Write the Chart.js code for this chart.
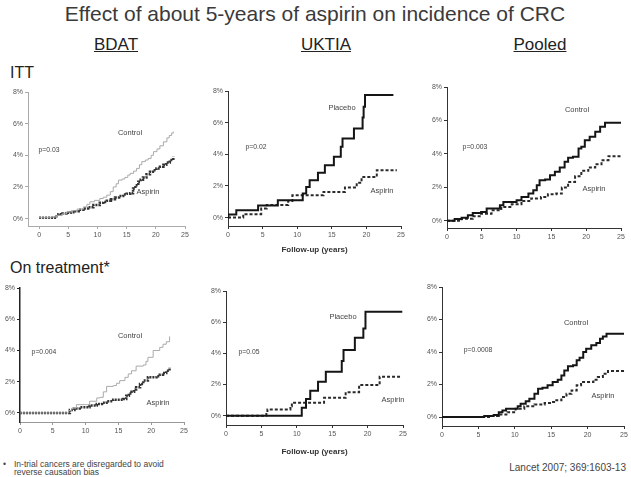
<!DOCTYPE html>
<html>
<head>
<meta charset="utf-8">
<script src="https://cdn.jsdelivr.net/npm/chart.js@4.4.0/dist/chart.umd.min.js"></script>
<style>
  html, body { margin: 0; padding: 0; background: #fff; }
  #page { position: relative; width: 631px; height: 477px; overflow: hidden;
          font-family: "Liberation Sans", Arial, sans-serif; color: #333; }
  .t { position: absolute; white-space: nowrap; }
  .c { transform: translate(-50%, -50%); }
  .hd { font-size: 17px; text-decoration: underline; color: #222; }
  .lb { font-size: 7.5px; color: #444; }
  .pv { font-size: 6.8px; color: #444; }
  canvas { position: absolute; }
</style>
</head>
<body>
<div id="page">
  <div class="t c" style="left:315px;top:14px;font-size:21px;color:#3a3a3a">Effect of about 5-years of aspirin on incidence of CRC</div>
  <div class="t c hd" style="left:116px;top:45px">BDAT</div>
  <div class="t c hd" style="left:326px;top:45px">UKTIA</div>
  <div class="t c hd" style="left:540px;top:45px">Pooled</div>
  <div class="t" style="left:10px;top:64px;font-size:16px;color:#222">ITT</div>
  <div class="t" style="left:10px;top:259px;font-size:16px;color:#222">On treatment*</div>

  <canvas id="c1"></canvas>
  <canvas id="c2"></canvas>
  <canvas id="c3"></canvas>
  <canvas id="c4"></canvas>
  <canvas id="c5"></canvas>
  <canvas id="c6"></canvas>

  <div class="t c lb" style="left:130px;top:132px">Control</div>
  <div class="t c pv" style="left:49px;top:149px">p=0.03</div>
  <div class="t c lb" style="left:148px;top:191px">Aspirin</div>

  <div class="t c lb" style="left:342px;top:107px">Placebo</div>
  <div class="t c pv" style="left:256px;top:146px">p=0.02</div>
  <div class="t c lb" style="left:382px;top:190px">Aspirin</div>

  <div class="t c lb" style="left:577px;top:109px">Control</div>
  <div class="t c pv" style="left:475px;top:146px">p=0.003</div>
  <div class="t c lb" style="left:594px;top:188px">Aspirin</div>

  <div class="t c lb" style="left:130px;top:335px">Control</div>
  <div class="t c pv" style="left:44px;top:351px">p=0.004</div>
  <div class="t c lb" style="left:158px;top:402px">Aspirin</div>

  <div class="t c lb" style="left:343px;top:316px">Placebo</div>
  <div class="t c pv" style="left:249px;top:351px">p=0.05</div>
  <div class="t c lb" style="left:393px;top:399px">Aspirin</div>

  <div class="t c lb" style="left:576px;top:322px">Control</div>
  <div class="t c pv" style="left:478px;top:349px">p=0.0008</div>
  <div class="t c lb" style="left:603px;top:395px">Aspirin</div>

  <div class="t" style="left:3px;top:459px;font-size:8.5px;color:#444">&bull;</div>
  <div class="t" style="left:14px;top:460px;font-size:8.5px;line-height:8px;color:#444">In-trial cancers are disregarded to avoid<br>reverse causation bias</div>
  <div class="t" style="right:5px;top:462px;font-size:10px;color:#444">Lancet 2007; 369:1603-13</div>
</div>

<script>
const xTicks = [0, 5, 10, 15, 20, 25];
const yTicks = [0, 2, 4, 6, 8];

// [years, cumulative incidence %] - value becomes y at time x
const bdatIttControl = [[0,0.05],[1,0.05],[2,0.1],[3,0.2],[4,0.3],[4.7,0.42],[5.5,0.5],[6.5,0.6],[7.6,0.74],[8.2,0.9],[8.7,1.06],[9.5,1.15],[10.4,1.27],[11,1.35],[11.6,1.48],[12.2,1.7],[12.7,2.0],[13.2,2.2],[13.6,2.43],[14.2,2.5],[14.7,2.6],[15.2,2.75],[15.6,2.86],[16.2,3.0],[16.7,3.17],[17.2,3.4],[17.6,3.6],[18.2,3.7],[18.7,3.8],[19.2,4.0],[19.6,4.23],[20.2,4.4],[20.7,4.6],[21.3,4.85],[21.9,5.1],[22.3,5.25],[22.7,5.4],[23,5.5]];
const bdatIttAspirin = [[0,0.05],[2.1,0.05],[2.7,0.15],[3.3,0.27],[4,0.32],[4.7,0.36],[5.4,0.4],[6.1,0.47],[6.8,0.55],[7.6,0.63],[8.4,0.72],[9.3,0.85],[10.4,1.0],[11,1.05],[11.6,1.12],[12.3,1.22],[13,1.33],[13.7,1.42],[14.4,1.52],[15,1.57],[15.6,1.6],[16.1,1.9],[16.5,2.1],[17,2.33],[17.4,2.45],[17.8,2.6],[18.4,2.8],[19,2.96],[19.5,3.05],[20.1,3.17],[20.7,3.28],[21.3,3.4],[21.8,3.55],[22.4,3.7],[23,3.9]];

const uktiaIttPlacebo = [[0,0],[0.05,0.2],[1.2,0.46],[4.35,0.76],[7.2,1.1],[10.8,1.52],[11.3,1.94],[11.8,2.36],[13.0,2.83],[14.0,3.31],[15.3,3.84],[16.3,4.47],[16.55,5.0],[18.2,5.63],[19.45,6.33],[19.6,7.0],[19.8,7.75],[23.9,7.75]];
const uktiaIttAspirin = [[0,0],[2.2,0.22],[4.8,0.57],[5.6,0.8],[8.7,1.05],[9.3,1.41],[13.8,1.62],[16.9,1.9],[18.6,2.2],[19.3,2.57],[21.5,3.0],[24.4,3.0]];

const pooledIttControl = [[0,0],[1.1,0.1],[2.1,0.18],[3.0,0.32],[3.7,0.46],[4.9,0.52],[5.7,0.72],[7.6,0.92],[8.1,1.12],[10.0,1.22],[10.7,1.42],[11.7,1.62],[12.4,1.82],[12.9,2.12],[13.3,2.42],[14.1,2.46],[14.8,2.72],[15.5,2.92],[16.2,3.18],[16.9,3.52],[17.4,3.76],[18.1,3.82],[18.9,4.32],[19.3,4.42],[19.8,4.82],[20.5,5.02],[21.3,5.32],[22.0,5.62],[22.7,5.86],[25,5.86]];
const pooledIttAspirin = [[0,0],[2.1,0.12],[3.7,0.26],[4.9,0.42],[6.4,0.62],[7.8,0.82],[9.3,0.98],[10.7,1.18],[12.1,1.32],[13.5,1.42],[14.5,1.58],[15.7,1.62],[16.5,1.98],[17.4,2.32],[18.4,2.66],[19.3,2.98],[20.3,3.18],[21.3,3.38],[22.2,3.62],[23.2,3.86],[25,3.86]];

const bdatOtControl = [[0,0],[6.85,0],[7.4,0.15],[7.9,0.32],[8.6,0.53],[10.1,0.53],[10.6,0.75],[11.7,0.96],[12.2,1.0],[12.7,1.35],[13.2,1.7],[14.2,1.75],[14.7,1.9],[15.2,2.07],[16.0,2.28],[16.5,2.5],[17.0,2.7],[17.7,3.0],[18.8,3.07],[19.2,3.3],[19.5,3.56],[20.3,4.0],[21.3,4.2],[21.8,4.4],[22.3,4.56],[22.8,4.9]];
const bdatOtAspirin = [[0,0],[6.85,0],[7.6,0.19],[8.3,0.28],[9.1,0.36],[10.6,0.47],[11.7,0.58],[12.5,0.65],[13.2,0.75],[14.2,0.85],[15.7,0.9],[16.2,1.1],[16.6,1.25],[17.0,1.36],[17.4,1.5],[17.7,1.64],[18.3,1.85],[18.8,2.07],[19.5,2.28],[20.8,2.35],[21.3,2.45],[21.8,2.56],[22.3,2.7],[22.8,2.92]];

const uktiaOtPlacebo = [[0,0],[10.7,0.51],[11.3,1.07],[11.9,1.6],[13.0,2.18],[14.1,2.82],[16.35,3.5],[16.6,4.21],[18.2,5.0],[19.4,5.6],[19.7,6.67],[24.9,6.67]];
const uktiaOtAspirin = [[0,0],[5.7,0.2],[5.85,0.4],[9.1,0.6],[9.3,0.83],[13.85,1.15],[16.9,1.5],[18.8,1.97],[21.7,2.5],[24.8,2.5]];

const pooledOtControl = [[0,0],[5.3,0],[5.8,0.06],[7.1,0.12],[7.8,0.3],[8.3,0.41],[8.8,0.51],[10.4,0.66],[10.8,0.82],[11.5,0.98],[12.0,1.13],[12.7,1.44],[13.2,1.74],[13.8,1.8],[14.5,1.95],[15.2,2.15],[15.9,2.3],[16.4,2.56],[16.8,2.87],[17.3,3.12],[18.0,3.18],[18.5,3.49],[18.9,3.65],[19.4,4.0],[19.8,4.2],[20.5,4.41],[21.2,4.55],[21.7,4.82],[22.1,4.96],[22.6,5.13],[25,5.13]];
const pooledOtAspirin = [[0,0],[5.3,0],[6.7,0.06],[7.8,0.16],[9.0,0.3],[10.1,0.51],[11.3,0.66],[12.7,0.78],[14.1,0.86],[15.0,0.92],[15.7,1.03],[16.4,1.23],[17.1,1.44],[17.8,1.64],[18.5,1.95],[19.1,2.15],[20.8,2.3],[21.4,2.46],[22.1,2.67],[22.8,2.83],[25,2.83]];

Chart.defaults.font.family = '"Liberation Sans", Arial, sans-serif';

const YW = 24, PAD = 8;

function makeChart(id, area, opts, sets) {
  const XH = opts.xh || 16;
  const cv = document.getElementById(id);
  cv.width = YW + (area.right - area.left) + 2 * PAD;
  cv.height = PAD + (area.bottom - area.top) + XH;
  cv.style.left = (area.left - YW - PAD) + 'px';
  cv.style.top = (area.top - PAD) + 'px';

  new Chart(cv, {
    type: 'line',
    data: {
      datasets: sets.map(s => ({
        data: s.data.map(p => ({ x: p[0], y: p[1] })),
        borderColor: s.color,
        borderWidth: s.width,
        borderDash: s.dash || [],
        stepped: true,
        pointRadius: 0,
        fill: false
      }))
    },
    options: {
      responsive: false,
      animation: false,
      layout: { padding: { left: PAD, right: PAD, top: PAD, bottom: 0 } },
      plugins: { legend: { display: false }, tooltip: { enabled: false } },
      scales: {
        x: {
          type: 'linear', min: opts.xMin || 0, max: 25,
          afterBuildTicks: s => { s.ticks = xTicks.map(v => ({ value: v })); },
          afterFit: s => { s.height = XH; s.paddingLeft = 0; s.paddingRight = 0; },
          grid: { drawOnChartArea: false, tickLength: 3, color: opts.xColor },
          border: { color: opts.xColor, width: 1 },
          ticks: { font: { size: 7 }, color: '#555', padding: 2, maxRotation: 0, autoSkip: false },
          title: {
            display: !!opts.xTitle, text: 'Follow-up (years)', padding: 0,
            font: { size: 8, weight: 'bold' }, color: '#333'
          }
        },
        y: {
          min: opts.yMin, max: 8,
          afterBuildTicks: s => { s.ticks = yTicks.map(v => ({ value: v })); },
          afterFit: s => { s.width = YW; s.paddingTop = 0; s.paddingBottom = 0; },
          grid: { drawOnChartArea: false, tickLength: 3, color: opts.yColor },
          border: { color: opts.yColor, width: opts.yWidth || 1 },
          ticks: { font: { size: 7 }, color: '#555', padding: 2, callback: v => v + '%' }
        }
      }
    }
  });
}

const grey = { color: '#aaaaaa', width: 1 };
const dotted = { color: '#333333', width: 2.5, dash: [2, 1] };
const solid = { color: '#151515', width: 2 };
const dashed = { color: '#2a2a2a', width: 2, dash: [3, 2] };

makeChart('c1', { left: 28, right: 185, top: 92, bottom: 226 },
  { xMin: -1.9, yMin: -0.47, xColor: '#aaa', yColor: '#aaa' },
  [{ data: bdatIttControl, ...grey }, { data: bdatIttAspirin, ...dotted }]);

makeChart('c2', { left: 228, right: 401, top: 91, bottom: 226 },
  { yMin: -0.53, xColor: '#333', yColor: '#333', xTitle: true, xh: 29 },
  [{ data: uktiaIttPlacebo, ...solid }, { data: uktiaIttAspirin, ...dashed }]);

makeChart('c3', { left: 447, right: 621, top: 87, bottom: 228 },
  { yMin: -0.44, xColor: '#333', yColor: '#333' },
  [{ data: pooledIttControl, ...solid }, { data: pooledIttAspirin, ...dashed }]);

makeChart('c4', { left: 20, right: 184, top: 288, bottom: 422 },
  { yMin: -0.58, xColor: '#999', yColor: '#222', yWidth: 1.5 },
  [{ data: bdatOtControl, ...grey }, { data: bdatOtAspirin, ...dotted }]);

makeChart('c5', { left: 226, right: 403, top: 291, bottom: 425 },
  { yMin: -0.6, xColor: '#333', yColor: '#333', xTitle: true, xh: 32 },
  [{ data: uktiaOtPlacebo, ...solid }, { data: uktiaOtAspirin, ...dashed }]);

makeChart('c6', { left: 442, right: 624, top: 287, bottom: 426 },
  { yMin: -0.55, xColor: '#333', yColor: '#333' },
  [{ data: pooledOtControl, ...solid }, { data: pooledOtAspirin, ...dashed }]);
</script>
</body>
</html>
